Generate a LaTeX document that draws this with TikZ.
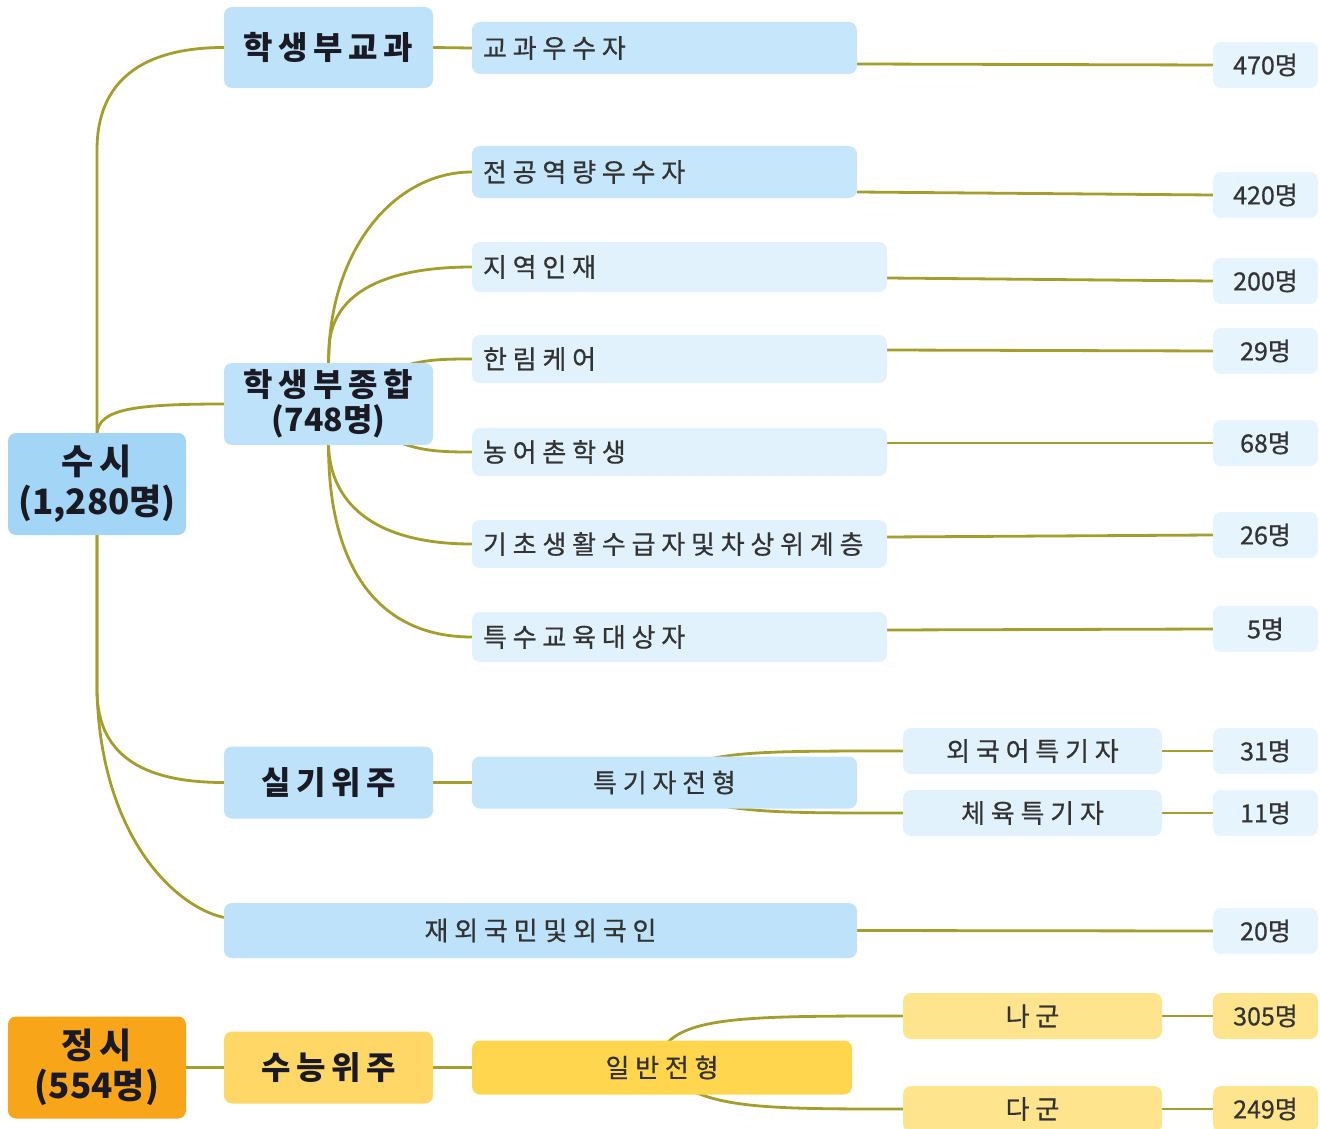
\documentclass[tikz,border=0pt]{standalone}
\usepackage{fontspec}
\setmainfont{Noto Sans CJK KR}
\newfontfamily\krm[FakeBold=0.6]{Noto Sans CJK KR}
\usetikzlibrary{calc,backgrounds}
% extra spacing between Hangul syllables
\newdimen\hangulgap
\hangulgap=0pt
\XeTeXinterchartokenstate=1
\makeatletter
\count@="AC00
\loop
  \XeTeXcharclass\count@=7
  \advance\count@ by 1
\ifnum\count@<"D7A4 \repeat
\makeatother
\XeTeXinterchartoks 7 7 = {\kern\hangulgap}
\newcommand\gapA{\hangulgap6pt\relax}
\newcommand\gapB{\hangulgap5.6pt\relax}
\newcommand\gapC{\hangulgap5.8pt\relax}
\definecolor{lnc}{HTML}{A59E2C}
\definecolor{bTop}{HTML}{A3D5F6}
\definecolor{bMid}{HTML}{BDE2FA}
\definecolor{bLeaf}{HTML}{C6E6FB}
\definecolor{bPale}{HTML}{E2F2FD}
\definecolor{bCnt}{HTML}{E6F4FD}
\definecolor{oTop}{HTML}{F9A51A}
\definecolor{oMid}{HTML}{FED766}
\definecolor{oLeaf}{HTML}{FFD64E}
\definecolor{oPale}{HTML}{FFE48E}
\definecolor{txtA}{HTML}{1A1A24}
\definecolor{txtB}{HTML}{333333}
\begin{document}
\begin{tikzpicture}[x=1pt,y=-1pt,
  bx/.style={rounded corners=8pt, inner sep=0pt},
  lvA/.style={bx, minimum width=178, minimum height=102, align=center, text=txtA,
    font={\fontsize{35}{40}\selectfont\bfseries\gapA}},
  lvB/.style={bx, minimum width=209, align=center, text=txtA,
    font={\fontsize{32}{35}\selectfont\bfseries\gapB}},
  leafL/.style={bx, text=txtB, align=left, font={\krm\fontsize{26}{30}\selectfont\gapC}},
  leafC/.style={bx, text=txtB, align=center, font={\krm\fontsize{26}{30}\selectfont\gapC}},
  cnt/.style={bx, minimum width=105, minimum height=46, text=txtB, align=center,
    font={\krm\fontsize{25}{28}\selectfont}},
  conn/.style={draw=lnc, line width=2.8pt}
]
\useasboundingbox (0,0) rectangle (1320,1129);

% ---- level 1
\node[lvA, fill=bTop] (susi) at (97,484) {수시\\(1,280명)};
\node[lvA, fill=oTop] (jeongsi) at (97,1067.5) {정시\\(554명)};

% ---- level 2
\node[lvB, fill=bMid, minimum height=81] (gyogwa) at (328.5,47.5) {학생부교과};
\node[lvB, fill=bMid, minimum height=82] (jonghap) at (328.5,404) {학생부종합\\(748명)};
\node[lvB, fill=bMid, minimum height=72] (silgi) at (328.5,782.5) {실기위주};
\node[leafC, fill=bMid, minimum width=633, minimum height=55] (jaeoe) at (540.5,930.5) {재외국민및외국인};
\node[lvB, fill=oMid, minimum height=72] (suneung) at (328.5,1067.5) {수능위주};

% ---- level 3
\node[leafL, fill=bLeaf, minimum width=385, minimum height=52, text width=363] (gk) at (664.5,48) {교과우수자};
\node[leafL, fill=bLeaf, minimum width=385, minimum height=52, text width=363] (jg) at (664.5,172) {전공역량우수자};
\node[leafL, fill=bPale, minimum width=415, minimum height=50, text width=393] (jy) at (679.5,267) {지역인재};
\node[leafL, fill=bPale, minimum width=415, minimum height=48, text width=393] (hl) at (679.5,359) {한림케어};
\node[leafL, fill=bPale, minimum width=415, minimum height=48, text width=393] (nc) at (679.5,452) {농어촌학생};
\node[leafL, fill=bPale, minimum width=415, minimum height=48, text width=393] (gc) at (679.5,544) {기초생활수급자및차상위계층};
\node[leafL, fill=bPale, minimum width=415, minimum height=50, text width=393] (ts) at (679.5,637) {특수교육대상자};
\node[leafC, fill=bLeaf, minimum width=385, minimum height=52] (tg) at (664.5,782.5) {특기자전형};
\node[leafC, fill=oLeaf, minimum width=380, minimum height=54] (ib) at (662,1067.5) {일반전형};

% ---- level 4
\node[leafC, fill=bPale, minimum width=259, minimum height=46] (fl) at (1032.5,751) {외국어특기자};
\node[leafC, fill=bPale, minimum width=259, minimum height=46] (pe) at (1032.5,813) {체육특기자};
\node[leafC, fill=oPale, minimum width=259, minimum height=46] (na) at (1032.5,1016) {나군};
\node[leafC, fill=oPale, minimum width=259, minimum height=46] (da) at (1032.5,1109) {다군};

% ---- counts
\node[cnt, fill=bCnt] (c470) at (1265.5,65) {470명};
\node[cnt, fill=bCnt] (c420) at (1265.5,195) {420명};
\node[cnt, fill=bCnt] (c200) at (1265.5,281) {200명};
\node[cnt, fill=bCnt] (c29) at (1265.5,351) {29명};
\node[cnt, fill=bCnt] (c68) at (1265.5,443) {68명};
\node[cnt, fill=bCnt] (c26) at (1265.5,535) {26명};
\node[cnt, fill=bCnt] (c5) at (1265.5,629) {5명};
\node[cnt, fill=bCnt] (c31) at (1265.5,751) {31명};
\node[cnt, fill=bCnt] (c11) at (1265.5,813) {11명};
\node[cnt, fill=bCnt] (c20) at (1265.5,931) {20명};
\node[cnt, fill=oPale] (c305) at (1265.5,1016) {305명};
\node[cnt, fill=oPale] (c249) at (1265.5,1109) {249명};

% ---- connectors
\begin{pgfonlayer}{background}
\draw[conn] (susi.north) -- (97,150) .. controls (97,75) and (150,47.5) .. (gyogwa.west);
\draw[conn] (susi.north) .. controls (100,410) and (130,404) .. (jonghap.west);
\draw[conn] (susi.south) -- (97,690) .. controls (97,760) and (150,782.5) .. (silgi.west);
\draw[conn] (susi.south) -- (97,690) .. controls (100,830) and (170,905) .. ($(jaeoe.west)+(0,-13)$);
\draw[conn] (jeongsi.east) -- (suneung.west);

\draw[conn] (gyogwa.east) -- (gk.west);
\draw[conn] (jonghap.north) .. controls (329,250) and (394,172) .. (jg.west);
\draw[conn] (jonghap.north) -- (329,350) .. controls (330,290) and (390,267) .. (jy.west);
\draw[conn] (jonghap.center) .. controls (400,360) and (420,359) .. (hl.west);
\draw[conn] (jonghap.center) .. controls (400,450) and (420,452) .. (nc.west);
\draw[conn] (jonghap.south) .. controls (330,500) and (370,544) .. (gc.west);
\draw[conn] (jonghap.south) .. controls (328.5,570) and (380,637) .. (ts.west);
\draw[conn] (silgi.east) -- (tg.west);
\draw[conn] (suneung.east) -- (ib.west);

\draw[conn] ($(gk.east)+(0,16)$) -- (c470.west);
\draw[conn] ($(jg.east)+(0,20)$) -- (c420.west);
\draw[conn] ($(jy.east)+(0,11)$) -- (c200.west);
\draw[conn] ($(hl.east)+(0,-9)$) -- (c29.west);
\draw[conn] ($(nc.east)+(0,-9)$) -- (c68.west);
\draw[conn] ($(gc.east)+(0,-7)$) -- (c26.west);
\draw[conn] ($(ts.east)+(0,-7)$) -- (c5.west);
\draw[conn] (jaeoe.east) -- (c20.west);

\draw[conn] ($(tg.north)+(40,4)$) .. controls (740,751) and (790,751) .. (fl.west);
\draw[conn] ($(tg.south)+(50,-4)$) .. controls (760,813) and (800,813) .. (pe.west);
\draw[conn] (fl.east) -- (c31.west);
\draw[conn] (pe.east) -- (c11.west);

\draw[conn] ($(ib.north)+(4,4)$) .. controls (690,1016) and (760,1016) .. (na.west);
\draw[conn] ($(ib.south)+(30,-4)$) .. controls (730,1109) and (790,1109) .. (da.west);
\draw[conn] (na.east) -- (c305.west);
\draw[conn] (da.east) -- (c249.west);
\end{pgfonlayer}
\end{tikzpicture}
\end{document}
